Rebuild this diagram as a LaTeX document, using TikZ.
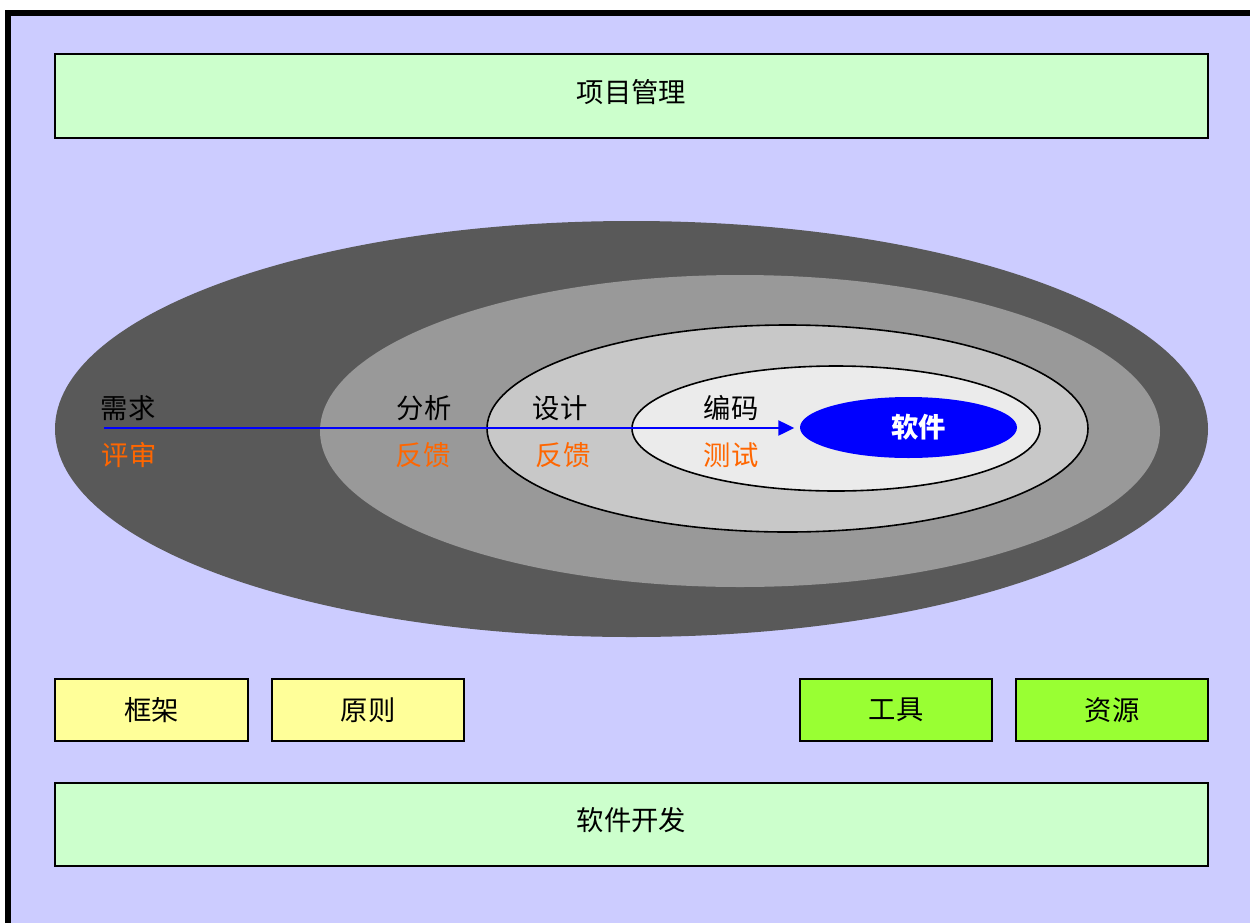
\documentclass[tikz,border=0pt]{standalone}
\usepackage{fontspec}
\setmainfont{Noto Sans CJK SC}
\usetikzlibrary{shapes.geometric,arrows.meta}
\definecolor{bgblue}{HTML}{CCCCFF}
\definecolor{lgreen}{HTML}{CCFFCC}
\definecolor{lyellow}{HTML}{FFFF99}
\definecolor{lime}{HTML}{99FF33}
\definecolor{dgray}{HTML}{595959}
\definecolor{mgray}{HTML}{999999}
\definecolor{lgray}{HTML}{C8C8C8}
\definecolor{vlgray}{HTML}{EBEBEB}
\definecolor{orng}{HTML}{FF6600}
\tikzset{
  box/.style={draw=black, line width=1.3pt, rectangle, inner sep=0pt, font=\fontsize{20.5}{24}\selectfont},
  ell/.style={ellipse, inner sep=0pt},
  lbl/.style={font=\fontsize{20.5}{24}\selectfont, inner sep=0pt},
  olbl/.style={lbl, text=orng},
}
\begin{document}
\begin{tikzpicture}[x=0.75pt,y=-0.75pt]
\useasboundingbox (0,0) rectangle (1250,922);
\fill[white] (0,0) rectangle (1250,922);
\begin{scope}
\clip (0,0) rectangle (1250,922);
\draw[line width=4.5pt, fill=bgblue] (8,13) rectangle (1270,950);
\end{scope}
% top and bottom boxes
\node[box, fill=lgreen, minimum width=1153*0.75pt, minimum height=84*0.75pt,
      label={[lbl, yshift=3pt]center:项目管理}] (pm) at (631.5,96) {};
\node[box, fill=lgreen, minimum width=1153*0.75pt, minimum height=83*0.75pt,
      label={[lbl, yshift=3pt]center:软件开发}] (dev) at (631.5,824.5) {};
% small boxes
\node[box, fill=lyellow, minimum width=193*0.75pt, minimum height=62*0.75pt] (frame) at (151.5,710) {框架};
\node[box, fill=lyellow, minimum width=192*0.75pt, minimum height=62*0.75pt] (princ) at (368,710) {原则};
\node[box, fill=lime, minimum width=192*0.75pt, minimum height=62*0.75pt] (tool) at (896,710) {工具};
\node[box, fill=lime, minimum width=192*0.75pt, minimum height=62*0.75pt] (res) at (1112,710) {资源};
% ellipses
\node[ell, fill=dgray, minimum width=1153*0.75pt, minimum height=416*0.75pt] (e1) at (631.5,429) {};
\node[ell, fill=mgray, minimum width=840*0.75pt, minimum height=312*0.75pt] (e2) at (740,431) {};
\node[ell, fill=lgray, draw=black, line width=1.2pt, minimum width=601*0.75pt, minimum height=207*0.75pt] (e3) at (787.5,428.5) {};
\node[ell, fill=vlgray, draw=black, line width=1.2pt, minimum width=408*0.75pt, minimum height=125*0.75pt] (e4) at (836,428.5) {};
\node[ell, fill=blue, minimum width=217*0.75pt, minimum height=61*0.75pt,
      label={[lbl, text=white, font=\fontsize{20.5}{24}\selectfont\bfseries, xshift=7.5pt]center:软件}] (soft) at (908.5,427.5) {};
% arrow
\coordinate (start) at (104,428);
\draw[blue, line width=2.2pt, -{Triangle[length=12pt,width=11pt]}] (start) -- (soft.west |- start) [shorten >=4pt];
% labels
\node[lbl] (req) at (128,408) {需求};
\node[olbl] (rev) at (129,455) {评审};
\node[lbl] (ana) at (424,408) {分析};
\node[olbl] (fb1) at (423,455) {反馈};
\node[lbl] (des) at (560,408) {设计};
\node[olbl] (fb2) at (563,455) {反馈};
\node[lbl] (cod) at (731,408) {编码};
\node[olbl] (tst) at (731,455) {测试};
\end{tikzpicture}
\end{document}
